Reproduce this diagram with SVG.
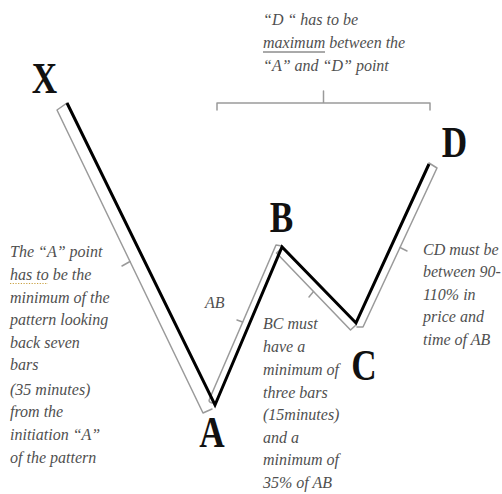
<svg xmlns="http://www.w3.org/2000/svg" width="502" height="494" viewBox="0 0 502 494">
<style>
.pt{font-family:"Liberation Serif","Times New Roman",serif;font-weight:bold;font-size:44px;fill:#111;text-anchor:middle}
.br{fill:none;stroke:#9a9a9a;stroke-width:1.5;stroke-linejoin:round;stroke-linecap:round}
.wave{fill:none;stroke:#000;stroke-width:3;stroke-linejoin:miter;stroke-linecap:butt}
</style>
<rect width="502" height="494" fill="#fff"/>
<g id="connectors">
  <path class="br" d="M67,103 L57,110 L203,413 L212,409"/>
  <path class="br" d="M130,261.5 L122,266"/>
  <path class="br" d="M212,403 Q208,402 209.5,399 L276,245 L282,246"/>
  <path class="br" d="M242.5,322 L237,320"/>
  <path class="br" d="M281,249 L276.5,253 L350.5,330 L356,325"/>
  <path class="br" d="M313.5,291.5 L309,297"/>
  <path class="br" d="M357,327 L363,327 L437,168 L429,163"/>
  <path class="br" d="M400,247.5 L407,251"/>
  <path class="br" d="M217,110 V103 H430 V110 M323.5,103 V91"/>
  <polyline class="wave" points="67,103 215,405 282,247 356,323 429,164"/>
</g>
<g id="node-X"><text class="pt" transform="translate(44.5,93) scale(0.8,1)">X</text></g>
<g id="node-A"><text class="pt" transform="translate(212,447) scale(0.8,1)">A</text></g>
<g id="node-B"><text class="pt" transform="translate(281.5,232) scale(0.8,1)">B</text></g>
<g id="node-C"><text class="pt" transform="translate(364,380) scale(0.8,1)">C</text></g>
<g id="node-D"><text class="pt" transform="translate(454.5,157) scale(0.8,1)">D</text></g>
<g font-family="Liberation Serif, Times New Roman, serif" font-style="italic" font-size="16" fill="#505050">
<g id="note-top">
  <text x="263" y="25">“D “ has to be</text>
  <text x="263" y="48">maximum between the</text>
  <text x="263" y="71">“A” and “D” point</text>
  <line x1="263" y1="52" x2="325" y2="52" stroke="#555" stroke-width="1"/>
</g>
<g id="note-left">
  <text x="10" y="257">The “A” point</text>
  <text x="10" y="280">has to be the</text>
  <text x="10" y="303">minimum of the</text>
  <text x="10" y="325">pattern looking</text>
  <text x="10" y="348">back seven</text>
  <text x="10" y="370">bars</text>
  <text x="10" y="395">(35 minutes)</text>
  <text x="10" y="417">from the</text>
  <text x="10" y="440">initiation “A”</text>
  <text x="10" y="463">of the pattern</text>
  <line x1="10" y1="283.5" x2="48" y2="283.5" stroke="#c8a040" stroke-width="1.2" stroke-dasharray="1.2 1.5"/>
</g>
<g id="note-AB"><text x="205" y="308">AB</text></g>
<g id="note-BC">
  <text x="263" y="329">BC must</text>
  <text x="263" y="352">have a</text>
  <text x="263" y="375">minimum of</text>
  <text x="263" y="398">three bars</text>
  <text x="263" y="420">(15minutes)</text>
  <text x="263" y="443">and a</text>
  <text x="263" y="465">minimum of</text>
  <text x="263" y="488">35% of AB</text>
</g>
<g id="note-CD">
  <text x="423" y="255">CD must be</text>
  <text x="423" y="277">between 90-</text>
  <text x="423" y="300">110% in</text>
  <text x="423" y="322">price and</text>
  <text x="423" y="345">time of AB</text>
</g>
</g>
</svg>
